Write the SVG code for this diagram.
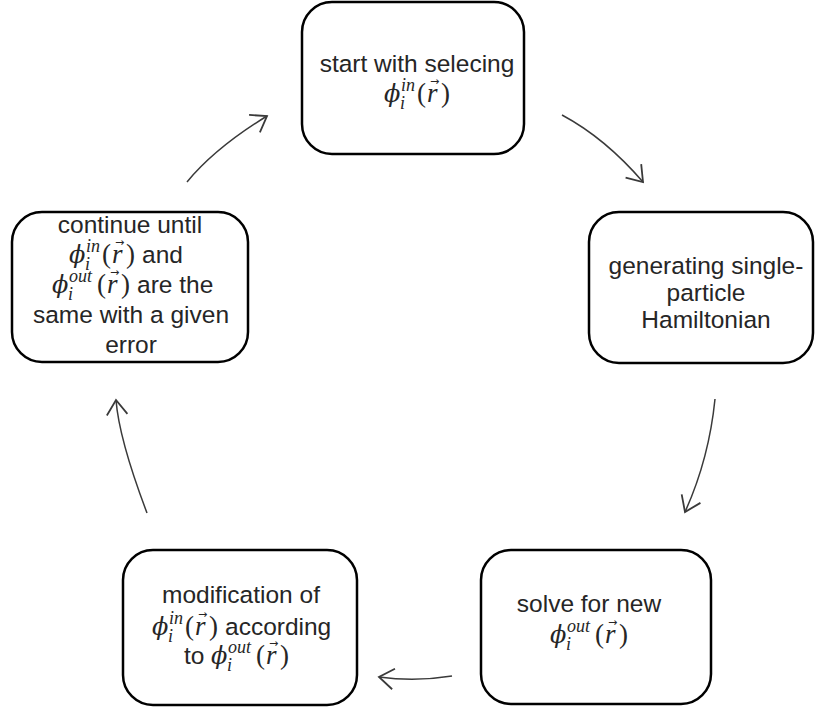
<svg xmlns="http://www.w3.org/2000/svg" width="815" height="708" viewBox="0 0 815 708">
<style>
  .box { fill: #ffffff; stroke: #000000; stroke-width: 2.5; }
  .t { font-family: "Liberation Sans", Arial, sans-serif; font-size: 24.5px; fill: #262626; text-anchor: middle; }
  .ts { font-family: "Liberation Sans", Arial, sans-serif; font-size: 24.5px; fill: #262626; }
  .m { font-family: "Liberation Serif", "DejaVu Serif", serif; font-size: 27px; fill: #262626; }
  .phi { font-family: "DejaVu Serif", serif; font-style: italic; font-size: 24px; fill: #262626; }
  .r { font-family: "Liberation Serif", "DejaVu Serif", serif; font-style: italic; font-size: 27px; fill: #262626; }
  .s { font-family: "Liberation Serif", "DejaVu Serif", serif; font-style: italic; font-size: 18px; fill: #262626; }
  .vec { font-family: "DejaVu Sans", sans-serif; font-size: 11px; fill: #262626; }
  .arrow { fill: none; stroke: #3a3a3a; stroke-width: 1.5; }
</style>
<defs>
  <marker id="ah" markerUnits="userSpaceOnUse" markerWidth="24" markerHeight="26" refX="18" refY="12" orient="auto" overflow="visible">
    <path d="M3.3,1.7 L18,12 L3.3,22.3" fill="none" stroke="#3a3a3a" stroke-width="1.8"/>
  </marker>
</defs>

<g id="connectors">
  <path class="arrow" d="M187,182 Q215,148 267,116" marker-end="url(#ah)"/>
  <path class="arrow" d="M562,115 Q605,138 643,182" marker-end="url(#ah)"/>
  <path class="arrow" d="M715,399 Q709,459 685,512" marker-end="url(#ah)"/>
  <path class="arrow" d="M452,676 Q415,682 379,677" marker-end="url(#ah)"/>
  <path class="arrow" d="M147,513 Q119,439 116,400" marker-end="url(#ah)"/>
</g>

<g id="node-start">
  <rect class="box" x="302" y="2" width="222" height="152" rx="30"/>
  <text class="t" x="417" y="72">start with selecing</text>
  <text y="102"><tspan class="phi" x="384">ϕ</tspan><tspan class="s" x="401" y="91">in</tspan><tspan class="s" x="400" y="109">i</tspan><tspan class="m" x="417" y="102">(</tspan><tspan class="r" x="427">r</tspan><tspan class="m" x="441">)</tspan></text>
  <text class="vec" x="430" y="85">→</text>
</g>

<g id="node-hamiltonian">
  <rect class="box" x="589" y="212" width="224" height="151" rx="30"/>
  <text class="t" x="706" y="274">generating single-</text>
  <text class="t" x="706" y="301">particle</text>
  <text class="t" x="706" y="328">Hamiltonian</text>
</g>

<g id="node-solve">
  <rect class="box" x="481" y="550" width="230" height="154" rx="30"/>
  <text class="t" x="589" y="612">solve for new</text>
  <text y="643"><tspan class="phi" x="550">ϕ</tspan><tspan class="s" x="567" y="632">out</tspan><tspan class="s" x="566" y="650">i</tspan><tspan class="m" x="595" y="643">(</tspan><tspan class="r" x="605">r</tspan><tspan class="m" x="619">)</tspan></text>
  <text class="vec" x="608" y="626">→</text>
</g>

<g id="node-modify">
  <rect class="box" x="123" y="550" width="234" height="155" rx="30"/>
  <text class="t" x="241" y="603">modification of</text>
  <text y="635"><tspan class="phi" x="152">ϕ</tspan><tspan class="s" x="169" y="624">in</tspan><tspan class="s" x="168" y="642">i</tspan><tspan class="m" x="185" y="635">(</tspan><tspan class="r" x="195">r</tspan><tspan class="m" x="209">)</tspan><tspan class="ts" x="225">according</tspan></text>
  <text class="vec" x="198" y="618">→</text>
  <text y="664"><tspan class="ts" x="184">to</tspan><tspan class="phi" x="211">ϕ</tspan><tspan class="s" x="228" y="653">out</tspan><tspan class="s" x="227" y="671">i</tspan><tspan class="m" x="256" y="664">(</tspan><tspan class="r" x="266">r</tspan><tspan class="m" x="280">)</tspan></text>
  <text class="vec" x="269" y="647">→</text>
</g>

<g id="node-continue">
  <rect class="box" x="12" y="212" width="236" height="150" rx="30"/>
  <text class="t" x="130" y="233">continue until</text>
  <text y="263"><tspan class="phi" x="69">ϕ</tspan><tspan class="s" x="86" y="252">in</tspan><tspan class="s" x="85" y="270">i</tspan><tspan class="m" x="102" y="263">(</tspan><tspan class="r" x="112">r</tspan><tspan class="m" x="126">)</tspan><tspan class="ts" x="142">and</tspan></text>
  <text class="vec" x="115" y="246">→</text>
  <text y="293"><tspan class="phi" x="52">ϕ</tspan><tspan class="s" x="69" y="282">out</tspan><tspan class="s" x="68" y="300">i</tspan><tspan class="m" x="97" y="293">(</tspan><tspan class="r" x="107">r</tspan><tspan class="m" x="121">)</tspan><tspan class="ts" x="137">are the</tspan></text>
  <text class="vec" x="110" y="276">→</text>
  <text class="t" x="131" y="323">same with a given</text>
  <text class="t" x="131" y="353">error</text>
</g>
</svg>
